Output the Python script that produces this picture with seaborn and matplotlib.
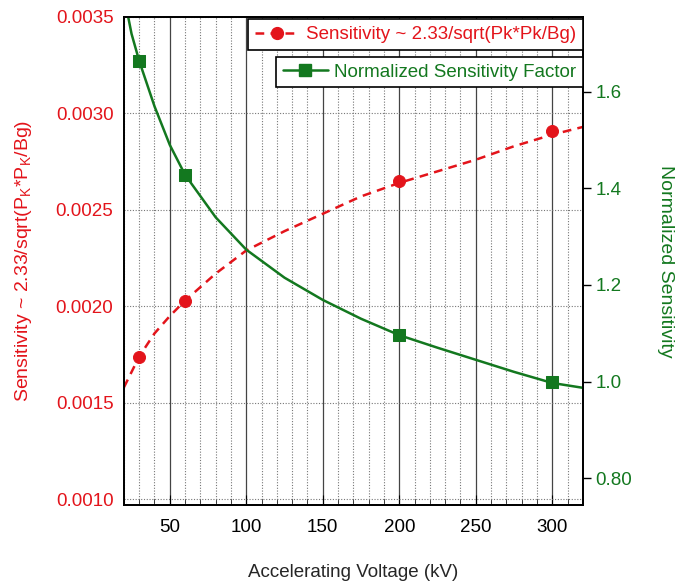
import numpy as np
import pandas as pd
import matplotlib
matplotlib.use("Agg")
import matplotlib.pyplot as plt
from matplotlib.lines import Line2D
from matplotlib.ticker import MultipleLocator
import seaborn as sns

# curve values
kv_curve = [20, 25, 30, 40, 50, 60, 80, 100, 125, 150, 175, 200, 225, 250, 275, 300, 320]
sens_curve = [0.00158, 0.00166, 0.00174, 0.00186, 0.00195, 0.00203, 0.00217, 0.00229,
              0.00239, 0.00248, 0.00257, 0.00264, 0.00270, 0.00276, 0.00283, 0.00289, 0.00293]
norm_curve = [1.80, 1.72, 1.664, 1.57, 1.49, 1.428, 1.34, 1.273, 1.215, 1.169, 1.13, 1.096,
              1.07, 1.045, 1.02, 0.997, 0.987]

# marked measurement points
kv_pts = [30, 60, 200, 300]
sens_pts = [0.00174, 0.00203, 0.00265, 0.00291]
norm_pts = [1.664, 1.428, 1.096, 1.0]

red = "#e3141b"
green = "#13781f"
fs = 13.5

sns.set_style("white")
plt.rcParams["font.family"] = ["Liberation Sans", "DejaVu Sans"]
plt.rcParams["mathtext.fontset"] = "custom"
plt.rcParams["mathtext.rm"] = "Liberation Sans"

fig = plt.figure(figsize=(6.77, 5.84), dpi=100)
ax = fig.add_axes([0.183, 0.135, 0.678, 0.836])
ax2 = ax.twinx()

df = pd.DataFrame({"kv": kv_curve, "sens": sens_curve, "norm": norm_curve})
pts = pd.DataFrame({"kv": kv_pts, "sens": sens_pts, "norm": norm_pts})

sns.lineplot(data=df, x="kv", y="sens", ax=ax, color=red, lw=1.8, linestyle=(0, (3.5, 2.5)))
sns.scatterplot(data=pts, x="kv", y="sens", ax=ax, color=red, s=75, marker="o",
                edgecolor=red, zorder=4)
sns.lineplot(data=df, x="kv", y="norm", ax=ax2, color=green, lw=1.8)
sns.scatterplot(data=pts, x="kv", y="norm", ax=ax2, color=green, s=85, marker="s",
                edgecolor=green, zorder=4)

ax.set_xlim(20, 320)
ax.set_ylim(0.00097, 0.0035)
ax2.set_ylim(0.744, 1.755)

ax.xaxis.set_major_locator(MultipleLocator(50))
ax.xaxis.set_minor_locator(MultipleLocator(10))
ax.set_yticks([0.0010, 0.0015, 0.0020, 0.0025, 0.0030, 0.0035])
ax.set_yticklabels(["0.0010", "0.0015", "0.0020", "0.0025", "0.0030", "0.0035"])
ax2.set_yticks([0.8, 1.0, 1.2, 1.4, 1.6])
ax2.set_yticklabels(["0.80", "1.0", "1.2", "1.4", "1.6"])

ax.grid(axis="x", which="major", color="#444444", lw=0.9, ls="-")
ax.grid(axis="x", which="minor", color="#777777", lw=0.8, ls=(0, (1, 1.5)))
ax.grid(axis="y", which="major", color="#777777", lw=0.8, ls=(0, (1, 1.5)))
ax.set_axisbelow(True)

ax.tick_params(axis="x", which="major", direction="in", length=7, labelsize=fs, pad=10,
               bottom=True, top=False, colors="black")
ax.tick_params(axis="x", which="minor", direction="in", length=4, bottom=True)
ax.tick_params(axis="y", left=False, labelsize=fs, labelcolor=red, pad=4)
ax2.tick_params(axis="y", right=True, direction="out", length=6, width=1, color="black",
                labelsize=fs, labelcolor=green, pad=3)

for a in (ax, ax2):
    for s in a.spines.values():
        s.set_color("black")
        s.set_linewidth(1.3)

ax.set_xlabel("Accelerating Voltage (kV)", fontsize=fs, labelpad=20)
ax.set_ylabel(r"Sensitivity ~ 2.33/sqrt(P$_\mathregular{K}$*P$_\mathregular{K}$/Bg)",
              fontsize=14, color=red, labelpad=16)
ax2.set_ylabel("Normalized Sensitivity", fontsize=14, color=green, rotation=270,
               labelpad=30)

h1 = Line2D([], [], color=red, lw=1.8, ls=(0, (3.5, 2.5)), marker="o", markersize=8.5)
h2 = Line2D([], [], color=green, lw=1.8, marker="s", markersize=8.5)
leg1 = ax2.legend([h1], ["Sensitivity ~ 2.33/sqrt(Pk*Pk/Bg)"], loc="upper right",
                  bbox_to_anchor=(1.0, 0.995), fontsize=fs, handlelength=2.4,
                  handletextpad=0.35, fancybox=False, framealpha=1, edgecolor="black",
                  borderaxespad=0, labelcolor=red, borderpad=0.35)
leg1.get_frame().set_linewidth(1.2)
ax2.add_artist(leg1)
leg2 = ax2.legend([h2], ["Normalized Sensitivity Factor"], loc="upper right",
                  bbox_to_anchor=(1.0, 0.918), fontsize=fs, handlelength=2.4,
                  handletextpad=0.35, fancybox=False, framealpha=1, edgecolor="black",
                  borderaxespad=0, labelcolor=green, borderpad=0.35)
leg2.get_frame().set_linewidth(1.2)

fig.savefig("out.png", dpi=100)
